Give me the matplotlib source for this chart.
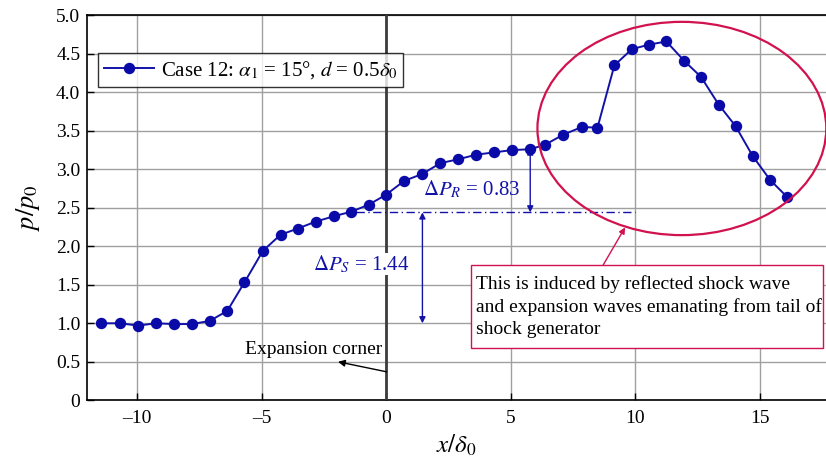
import numpy as np
import matplotlib.pyplot as plt
from matplotlib.patches import Ellipse, Rectangle

plt.rcParams['font.family'] = ['Liberation Serif', 'DejaVu Serif']
plt.rcParams['mathtext.fontset'] = 'stix'

# wall pressure distribution, case 12
x_d = [-11.43, -10.70, -9.95, -9.25, -8.52, -7.81, -7.09, -6.38, -5.69, -4.95,
       -4.24, -3.55, -2.83, -2.10, -1.39, -0.70, 0.0, 0.73, 1.46, 2.18,
       2.90, 3.62, 4.35, 5.07, 5.79, 6.39, 7.12, 7.87, 8.49, 9.17,
       9.87, 10.57, 11.26, 11.97, 12.65, 13.36, 14.04, 14.73, 15.43, 16.11]
p_p0 = [1.00, 1.00, 0.97, 1.00, 0.99, 0.99, 1.03, 1.16, 1.53, 1.94,
        2.15, 2.23, 2.32, 2.39, 2.45, 2.54, 2.67, 2.85, 2.94, 3.08,
        3.13, 3.19, 3.22, 3.25, 3.26, 3.32, 3.45, 3.55, 3.54, 4.35,
        4.56, 4.62, 4.66, 4.41, 4.20, 3.84, 3.56, 3.17, 2.86, 2.64]

p_base = 1.0
dP_S = 1.44
dP_R = 0.83
xticks = [-10, -5, 0, 5, 10, 15]
yticks = np.arange(0, 5.01, 0.5)

blue = '#1212a8'
red = '#d1124e'

fig = plt.figure(figsize=(8.26, 4.68), dpi=100)
ax = fig.add_axes([0.1057, 0.1447, 0.8943, 0.8226])

ax.plot(x_d, p_p0, '-o', color=blue, lw=1.4, ms=7.2, mfc='#0a0aa8', mec='#0a0aa8',
        label=r'Case 12: $\alpha_1$ = 15°, $d$ = 0.5$\delta_0$', zorder=5)

# expansion corner
ax.axvline(0, color='#3c3c3c', lw=2.0, zorder=3)
ax.text(-2.9, 0.66, 'Expansion corner', ha='center', va='center',
        fontsize=14, zorder=6)
ax.annotate('', xy=(-1.93, 0.5), xytext=(0.02, 0.37),
            arrowprops=dict(arrowstyle='-|>', color='black', lw=1.0,
                            mutation_scale=10, shrinkA=0, shrinkB=0), zorder=6)

# pressure rise levels
p_s = p_base + dP_S
ax.plot([-1.2, 10.0], [p_s, p_s], color=blue, lw=1.0, ls=(0, (6, 2.5, 1, 2.5)), zorder=4)
ax.annotate('', xy=(1.46, p_base), xytext=(1.46, p_s),
            arrowprops=dict(arrowstyle='<|-|>', color=blue, lw=1.0,
                            mutation_scale=9, shrinkA=0, shrinkB=0))
ax.annotate('', xy=(5.79, p_s), xytext=(5.79, p_s + dP_R),
            arrowprops=dict(arrowstyle='<|-|>', color=blue, lw=1.0,
                            mutation_scale=9, shrinkA=0, shrinkB=0))
ax.text(-1.0, 1.77, r'$\Delta P_S$ = %.2f' % dP_S, color=blue, fontsize=15,
        ha='center', va='center', zorder=6,
        bbox=dict(facecolor='white', edgecolor='none', pad=0.5))
ax.text(3.45, 2.74, r'$\Delta P_R$ = %.2f' % dP_R, color=blue, fontsize=15,
        ha='center', va='center', zorder=6)

# highlighted region and note
ax.add_patch(Ellipse((11.88, 3.53), 11.6, 2.77, fill=False, edgecolor=red,
                     lw=1.6, clip_on=False, zorder=6))
ax.add_patch(Rectangle((3.43, 0.677), 14.13, 1.08, facecolor='white',
                       edgecolor=red, lw=1.0, zorder=6))
ax.text(3.62, 1.215, 'This is induced by reflected shock wave\n'
        'and expansion waves emanating from tail of\nshock generator',
        fontsize=14, ha='left', va='center', linespacing=1.38, zorder=7)
ax.annotate('', xy=(9.6, 2.245), xytext=(8.72, 1.757),
            arrowprops=dict(arrowstyle='-|>', color=red, lw=1.0,
                            mutation_scale=9, shrinkA=0, shrinkB=0), zorder=7)

ax.set_xlim(-12, 17.67)
ax.set_ylim(0, 5)
ax.set_xticks(xticks)
ax.set_xticklabels([str(t).replace('-', '\u2013') for t in xticks])
ax.set_yticks(yticks)
ax.set_yticklabels(['0' if v == 0 else '%.1f' % v for v in yticks])
ax.tick_params(direction='in', length=5, width=1, labelsize=14)
ax.tick_params(axis='y', pad=5)
ax.tick_params(axis='x', pad=7)
ax.grid(True, color='#a0a0a0', lw=1.0)
ax.set_axisbelow(True)
for s in ['left', 'bottom', 'top']:
    ax.spines[s].set_linewidth(1.2)
ax.spines['right'].set_visible(False)

ax.set_xlabel(r'$x/\delta_0$', fontsize=18, labelpad=4)
ax.set_ylabel(r'$p/p_0$', fontsize=19, labelpad=10)

leg = ax.legend(loc='upper left', bbox_to_anchor=(0.0145, 0.902), borderaxespad=0,
                fontsize=15, frameon=True, fancybox=False, handlelength=2.4,
                borderpad=0.3, handletextpad=0.3)
leg.get_frame().set_edgecolor('black')
leg.get_frame().set_linewidth(1.0)

plt.savefig('out.png', dpi=100, facecolor='white')
